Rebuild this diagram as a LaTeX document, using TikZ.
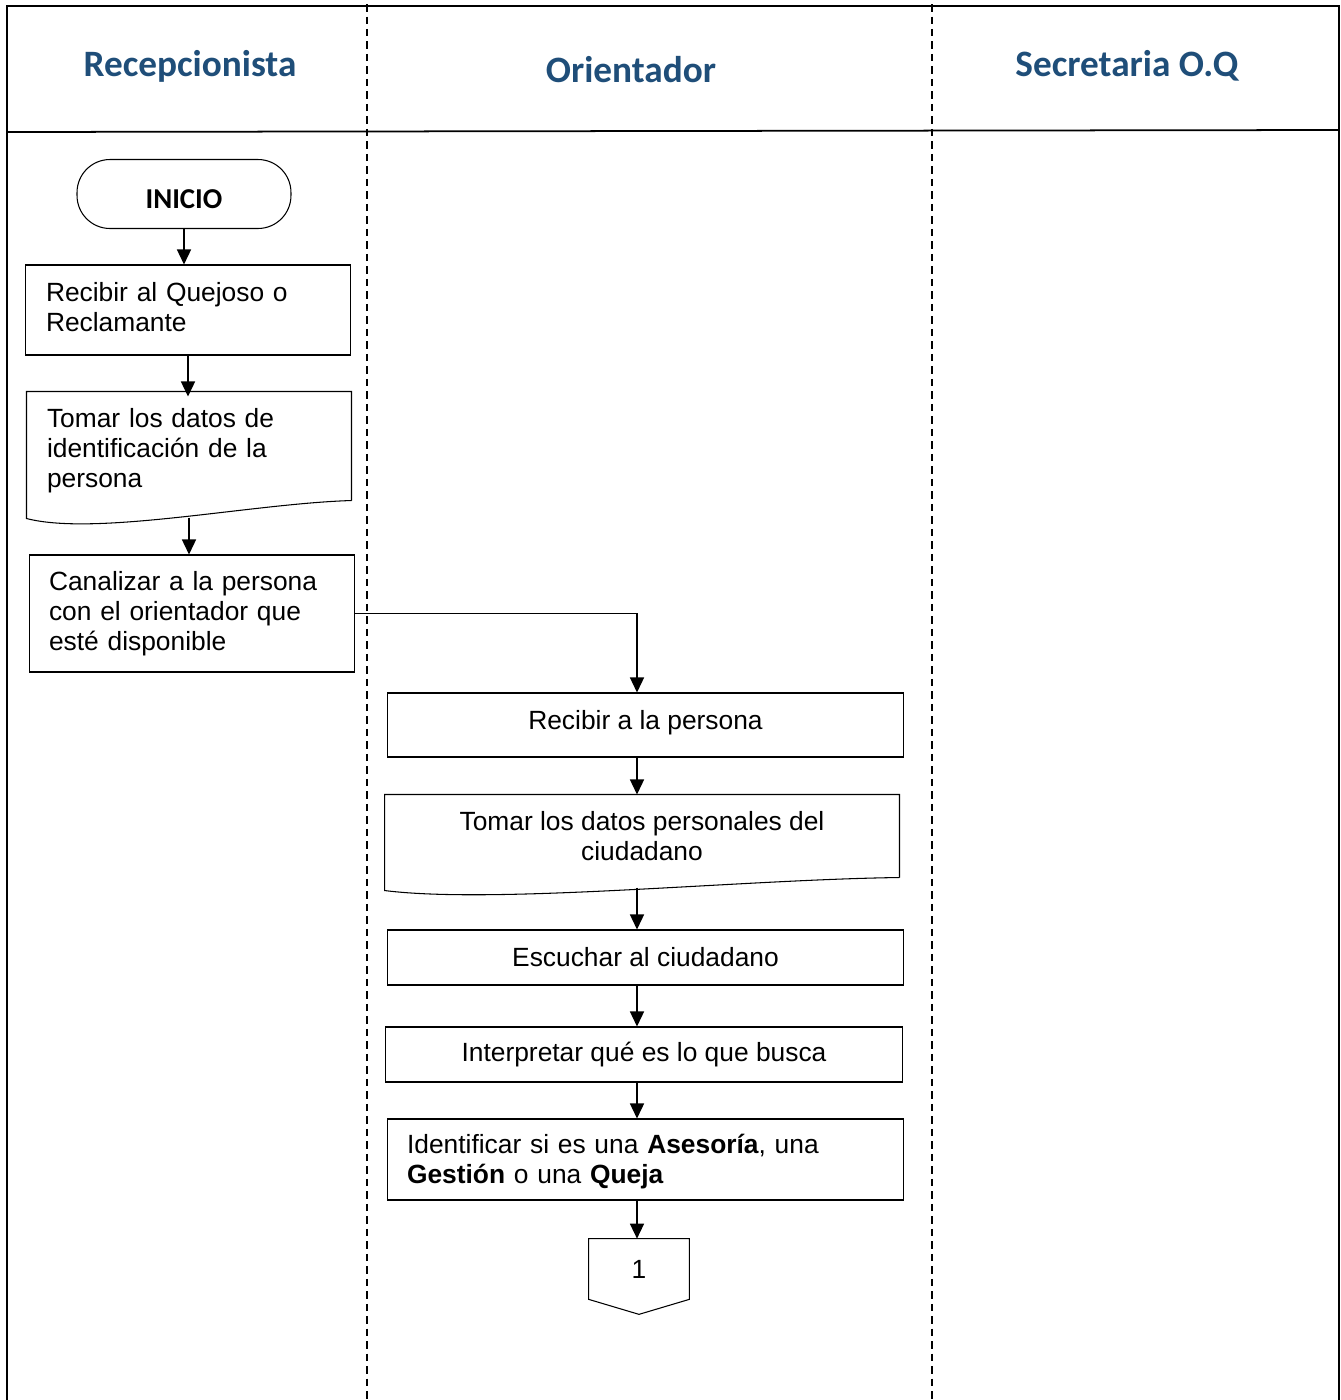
\documentclass[tikz,border=0pt]{standalone}
\usepackage{fontspec}
\setmainfont{Liberation Sans}
\newfontfamily\hdrfont{Carlito}
\usetikzlibrary{arrows.meta,calc}
\definecolor{hdrblue}{RGB}{31,78,121}
\newcommand\mybody{\fontsize{15}{17.1}\selectfont}
\newcommand\shiftdown[2]{\raisebox{#1}[\height][\depth]{#2}}
\begin{document}
\begin{tikzpicture}[x=0.02cm,y=-0.02cm,
  proc/.style={draw, line width=0.6pt, font=\mybody, inner sep=0pt},
  hdr/.style={font=\hdrfont\bfseries\fontsize{21.2}{24}\selectfont, text=hdrblue},
  arr/.style={-{Triangle[length=0.3cm,width=0.28cm]}, line width=0.8pt},
  lane/.style={line width=1.1pt, dash pattern=on 0.15cm off 0.1cm},
  frame/.style={line width=1pt}]
\useasboundingbox (0,0) rectangle (1340,1400);
% frame and lanes
\draw[frame] (7,1400) -- (7,6) -- (1339,6) -- (1339,1400);
\draw[frame] (7,132) -- (1339,130);
\draw[lane] (367,4) -- (367,1400);
\draw[lane] (932,4) -- (932,1400);
% headers
\node[hdr] (h1) at (190,66) {Recepcionista};
\node[hdr] (h2) at (631,70) {Orientador};
\node[hdr] (h3) at (1127,66) {Secretaria O.Q};
% recepcionista lane
\node[draw, line width=0.6pt, rounded corners=0.66cm, minimum width=4.28cm, minimum height=1.38cm,
      font=\hdrfont\bfseries\fontsize{16.4}{18}\selectfont] (ini) at (184,194) {\shiftdown{-0.11cm}{INICIO}};
\node[proc, minimum width=6.52cm, minimum height=1.8cm, text width=5.68cm, align=left] (b1) at (188,310)
  {\shiftdown{0.05cm}{Recibir al Quejoso o}\\\shiftdown{0.05cm}{Reclamante}};
\node[proc, draw=none, minimum width=6.48cm, minimum height=2.16cm, text width=5.68cm, align=left] (d1) at (189,451)
  {Tomar los datos de\\identificación de la\\persona};
\draw[line width=0.6pt] ($(d1.south east)+(0,-5)$) -- ($(d1.north east)+(0,-5)$) -- ($(d1.north west)+(0,-5)$)
  -- ($(d1.south west)+(0,13)$)
  .. controls +(70,18) and +(-100,3) .. ($(d1.south east)+(0,-5)$);
\node[proc, minimum width=6.52cm, minimum height=2.34cm, text width=5.72cm, align=left] (b3) at (192,613.5)
  {Canalizar a la persona\\con el orientador que\\esté disponible};
% orientador lane
\coordinate (col) at (637,0);
\node[proc, minimum width=10.34cm, minimum height=1.28cm] (r1) at (645.5,725) {\shiftdown{0.05cm}{Recibir a la persona}};
\node[proc, draw=none, minimum width=10.28cm, minimum height=1.64cm, align=center] (d2) at (642,836)
  {Tomar los datos personales del\\ciudadano};
\draw[line width=0.6pt] (d2.south east) -- (d2.north east) -- (d2.north west) -- ($(d2.south west)+(0,13)$)
  .. controls +(111,14) and +(-159,2) .. (d2.south east);
\node[proc, minimum width=10.34cm, minimum height=1.1cm] (esc) at (645.5,957.5) {Escuchar al ciudadano};
\node[proc, minimum width=10.36cm, minimum height=1.1cm] (int) at (644,1054.5) {Interpretar qué es lo que busca};
\node[proc, minimum width=10.34cm, minimum height=1.62cm, text width=9.54cm, align=left] (ide) at (645.5,1159.5)
  {\shiftdown{-0.05cm}{Identificar si es una \textbf{Asesoría}, una}\\\shiftdown{-0.05cm}{\textbf{Gestión} o una \textbf{Queja}}};
\node[font=\mybody, minimum width=2cm, minimum height=1.2cm, inner sep=0pt] (off) at (639,1269) {1};
\draw[line width=0.6pt] (off.north west) -- (off.north east) -- (off.south east) -- ($(off.south)+(0,15)$)
  -- (off.south west) -- cycle;
% connectors
\draw[arr] (ini.south) -- (ini.south |- b1.north);
\draw[arr] (b1.south) -- (b1.south |- d1.north);
\draw[arr] ($(d1.south)+(0,12)$) -- (d1.south |- b3.north);
\draw[arr] (b3.east) -| (col |- r1.north);
\draw[arr] (col |- r1.south) -- (col |- d2.north);
\draw[arr] ($(col |- d2.south)+(0,10)$) -- (col |- esc.north);
\draw[arr] (col |- esc.south) -- (col |- int.north);
\draw[arr] (col |- int.south) -- (col |- ide.north);
\draw[arr] (col |- ide.south) -- (col |- off.north);
\end{tikzpicture}
\end{document}
